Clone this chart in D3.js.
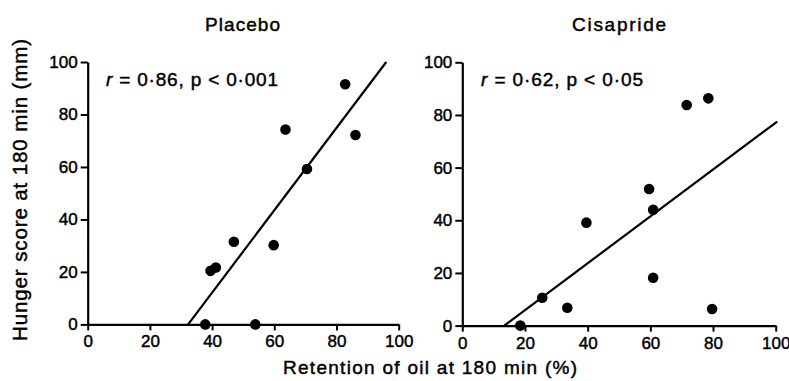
<!DOCTYPE html>
<html>
<head>
<meta charset="utf-8">
<script src="https://cdn.jsdelivr.net/npm/d3@7"></script>
<style>
  html, body { margin: 0; padding: 0; background: #fff; }
  svg { display: block; }
  text { font-family: "Liberation Sans", Arial, Helvetica, sans-serif; fill: #000; stroke: #000; stroke-width: 0.45px; }
</style>
</head>
<body>
<svg id="chart" width="789" height="381"></svg>
<script>
// ---- Data ----
const panelTitles = ["Placebo", "Cisapride"];
const placeboX = [63.6, 82.8, 86.1, 70.5, 47.0, 59.8, 39.5, 41.2, 37.8, 53.9];
const placeboY = [74.3, 91.5, 72.2, 59.2, 31.5, 30.2, 20.4, 21.7, 0, 0];
const cisaprideX = [71.6, 78.5, 59.6, 60.9, 39.6, 60.9, 25.5, 33.5, 79.7, 18.5];
const cisaprideY = [83.8, 86.3, 51.9, 44.0, 39.1, 18.2, 10.6, 6.8, 6.3, 0];
// regression line endpoints [x, y] in data units
const placeboFit = [[32.3, 0], [96.0, 100]];
const cisaprideFit = [[13.4, 0], [100.5, 77.5]];
const statR = ["0·86", "0·62"];
const statP = ["0·001", "0·05"];
const xTicks = [0, 20, 40, 60, 80, 100];
const yTicks = [0, 20, 40, 60, 80, 100];
const xLabel = "Retention of oil at 180 min (%)";
const yLabel = "Hunger score at 180 min (mm)";

// ---- Layout ----
const svg = d3.select("#chart");
const panels = [
  { title: panelTitles[0], xs: placeboX, ys: placeboY, fit: placeboFit, r: statR[0], p: statP[0],
    xr: [87.7, 398.7], yr: [324.4, 62], titleX: 242.5, titleLen: 75, annX: 106, annLen: 172 },
  { title: panelTitles[1], xs: cisaprideX, ys: cisaprideY, fit: cisaprideFit, r: statR[1], p: statP[1],
    xr: [462.3, 775.7], yr: [325.6, 62.3], titleX: 619, titleLen: 94, annX: 481, annLen: 162 }
];

panels.forEach(pn => {
  const x = d3.scaleLinear().domain([0, 100]).range(pn.xr);
  const y = d3.scaleLinear().domain([0, 100]).range(pn.yr);
  const g = svg.append("g");

  // title
  g.append("text")
    .attr("x", pn.titleX).attr("y", 31)
    .attr("text-anchor", "middle")
    .attr("font-size", 19)
    .attr("textLength", pn.titleLen).attr("lengthAdjust", "spacing")
    .text(pn.title);

  // axes
  const xAxis = d3.axisBottom(x).tickValues(xTicks).tickSize(6).tickPadding(5).tickSizeOuter(0);
  const yAxis = d3.axisLeft(y).tickValues(yTicks).tickSize(7).tickPadding(3).tickSizeOuter(0);

  const gx = g.append("g").attr("transform", `translate(0,${pn.yr[0]})`).call(xAxis);
  const gy = g.append("g").attr("transform", `translate(${pn.xr[0]},0)`).call(yAxis);
  [gx, gy].forEach(a => {
    a.select(".domain").attr("stroke", "#000").attr("stroke-width", 2.2);
    a.selectAll(".tick line").attr("stroke", "#000").attr("stroke-width", 2);
    a.selectAll(".tick text").attr("font-size", 17).attr("fill", "#000")
      .attr("stroke", "#000").attr("stroke-width", 0.5)
      .style("font-family", "\"Liberation Sans\", Arial, sans-serif");
  });

  // regression line
  g.append("line")
    .attr("x1", x(pn.fit[0][0])).attr("y1", y(pn.fit[0][1]))
    .attr("x2", x(pn.fit[1][0])).attr("y2", y(pn.fit[1][1]))
    .attr("stroke", "#000").attr("stroke-width", 2.2);

  // points
  g.selectAll("circle.pt").data(pn.xs.map((v, i) => [v, pn.ys[i]]))
    .join("circle").attr("class", "pt")
    .attr("cx", d => x(d[0])).attr("cy", d => y(d[1]))
    .attr("r", 5.3).attr("fill", "#000");

  // annotation
  const t = g.append("text")
    .attr("x", pn.annX).attr("y", 86)
    .attr("font-size", 19)
    .attr("textLength", pn.annLen).attr("lengthAdjust", "spacing");
  t.append("tspan").attr("font-style", "italic").text("r");
  t.append("tspan").text(` = ${pn.r}, p < ${pn.p}`);
});

// shared axis labels
svg.append("text")
  .attr("x", 283).attr("y", 374)
  .attr("font-size", 19)
  .attr("textLength", 294).attr("lengthAdjust", "spacing")
  .text(xLabel);

svg.append("text")
  .attr("transform", "translate(26.7,341) rotate(-90)")
  .attr("x", 0).attr("y", 0)
  .attr("font-size", 20.5)
  .attr("textLength", 302).attr("lengthAdjust", "spacing")
  .text(yLabel);
</script>
</body>
</html>
